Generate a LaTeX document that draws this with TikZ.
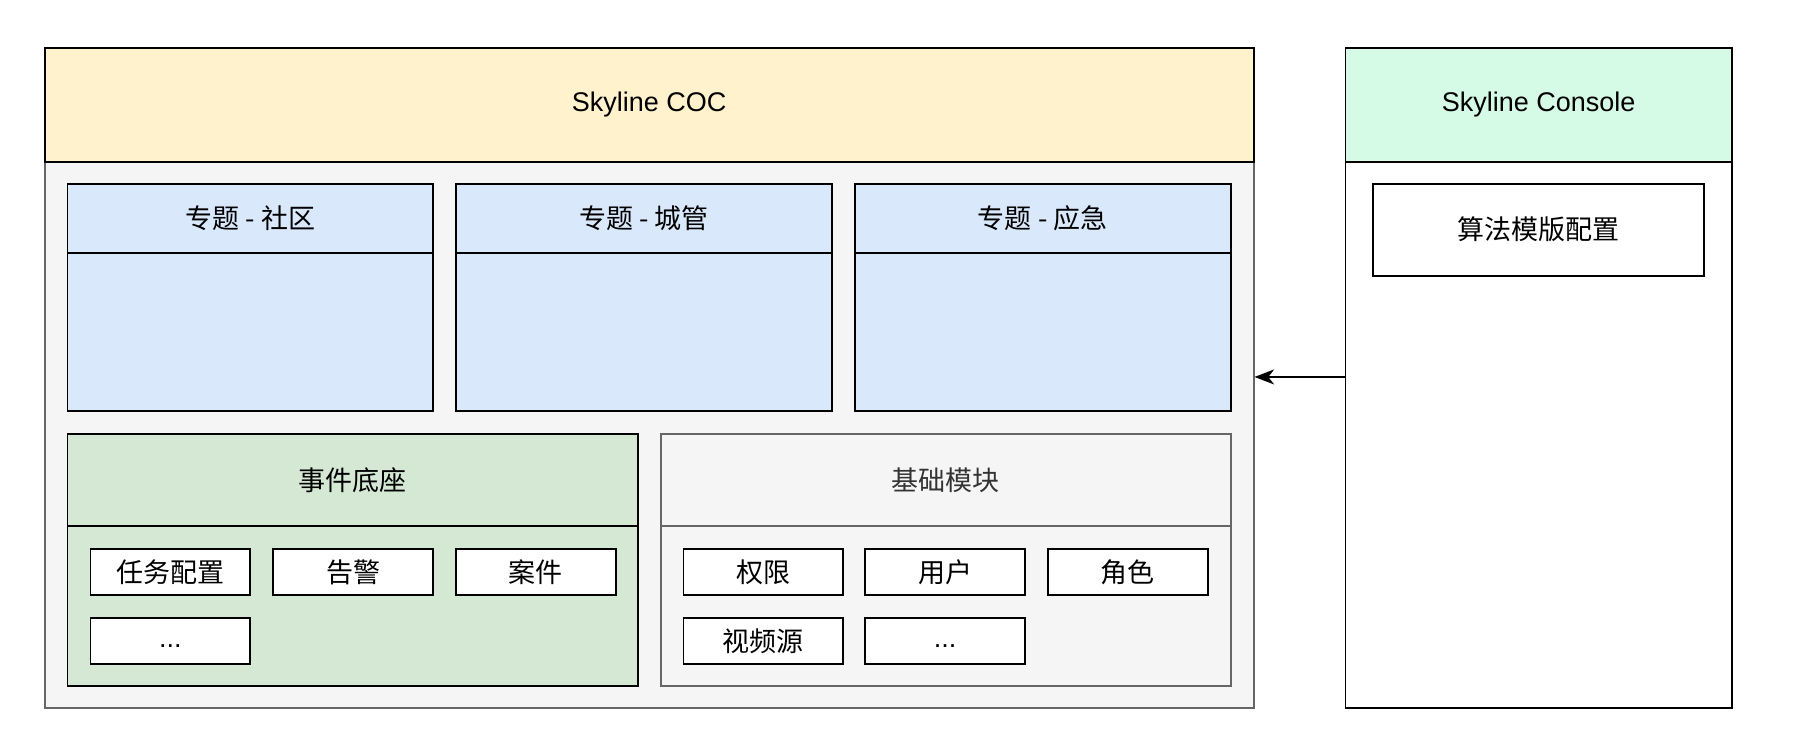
\documentclass[tikz,border=0pt]{standalone}
\usepackage{fontspec}
\setmainfont{Liberation Sans}
\newfontfamily\cjk{Noto Sans CJK SC}
\usetikzlibrary{arrows.meta}
\definecolor{cocHead}{HTML}{FFF2CC}
\definecolor{conHead}{HTML}{D5FAE6}
\definecolor{topicFill}{HTML}{DAE8FC}
\definecolor{eventFill}{HTML}{D5E8D4}
\definecolor{greyFill}{HTML}{F5F5F5}
\definecolor{greyLine}{HTML}{666666}
\definecolor{greyText}{HTML}{333333}
\begin{document}
\begin{tikzpicture}[x=1pt,y=-1pt,
  box/.style={draw=black, line width=1.6pt, inner sep=0pt, anchor=north west,
    font=\fontsize{23.5}{28}\selectfont\cjk, text=black},
  greybox/.style={box, draw=greyLine, fill=greyFill, text=greyText},
  item/.style={box, fill=white, minimum width=139pt, minimum height=40pt},
  latin/.style={font=\fontsize{23.5}{28}\selectfont\rmfamily}]
\useasboundingbox (0,0) rectangle (1568,651);
\fill[white] (0,0) rectangle (1568,651);
% COC
\node[greybox, minimum width=1052pt, minimum height=475pt] (cocbody) at (38,140) {};
\node[box, fill=cocHead, minimum width=1052pt, minimum height=99pt, latin] (cochead) at (38,41) {Skyline COC};
% Console
\node[box, fill=white, minimum width=336pt, minimum height=475pt] (conbody) at (1170,140) {};
\node[box, fill=conHead, minimum width=336pt, minimum height=99pt, latin] (conhead) at (1170,41) {Skyline Console};
\node[box, fill=white, minimum width=288pt, minimum height=80pt] (algo) at (1194,159) {算法模版配置};
% topics
\node[box, fill=topicFill, minimum width=318pt, minimum height=60pt] (t1h) at (58,159) {专题 - 社区};
\node[box, fill=topicFill, minimum width=318pt, minimum height=138pt] (t1b) at (58,219) {};
\node[box, fill=topicFill, minimum width=327pt, minimum height=60pt] (t2h) at (396,159) {专题 - 城管};
\node[box, fill=topicFill, minimum width=327pt, minimum height=138pt] (t2b) at (396,219) {};
\node[box, fill=topicFill, minimum width=327pt, minimum height=60pt] (t3h) at (743,159) {专题 - 应急};
\node[box, fill=topicFill, minimum width=327pt, minimum height=138pt] (t3b) at (743,219) {};
% event base
\node[box, fill=eventFill, minimum width=496pt, minimum height=80pt] (evh) at (58,377) {事件底座};
\node[box, fill=eventFill, minimum width=496pt, minimum height=139pt] (evb) at (58,457) {};
\node[item] (e1) at (78,477) {任务配置};
\node[item] (e2) at (237,477) {告警};
\node[item] (e3) at (396,477) {案件};
\node[item, latin] (e4) at (78,537) {\vphantom{Ag}...};
% base modules
\node[greybox, minimum width=496pt, minimum height=80pt] (bmh) at (574,377) {基础模块};
\node[greybox, minimum width=496pt, minimum height=139pt] (bmb) at (574,457) {};
\node[item] (b1) at (594,477) {权限};
\node[item] (b2) at (752,477) {用户};
\node[item] (b3) at (911,477) {角色};
\node[item] (b4) at (594,537) {视频源};
\node[item, latin] (b5) at (752,537) {\vphantom{Ag}...};
% arrow
\coordinate (ay) at (0,328);
\draw[line width=1.6pt, -{Stealth[length=17pt,width=13pt,inset=5pt]}] (conbody.west |- ay) -- (cocbody.east |- ay);
\end{tikzpicture}
\end{document}
